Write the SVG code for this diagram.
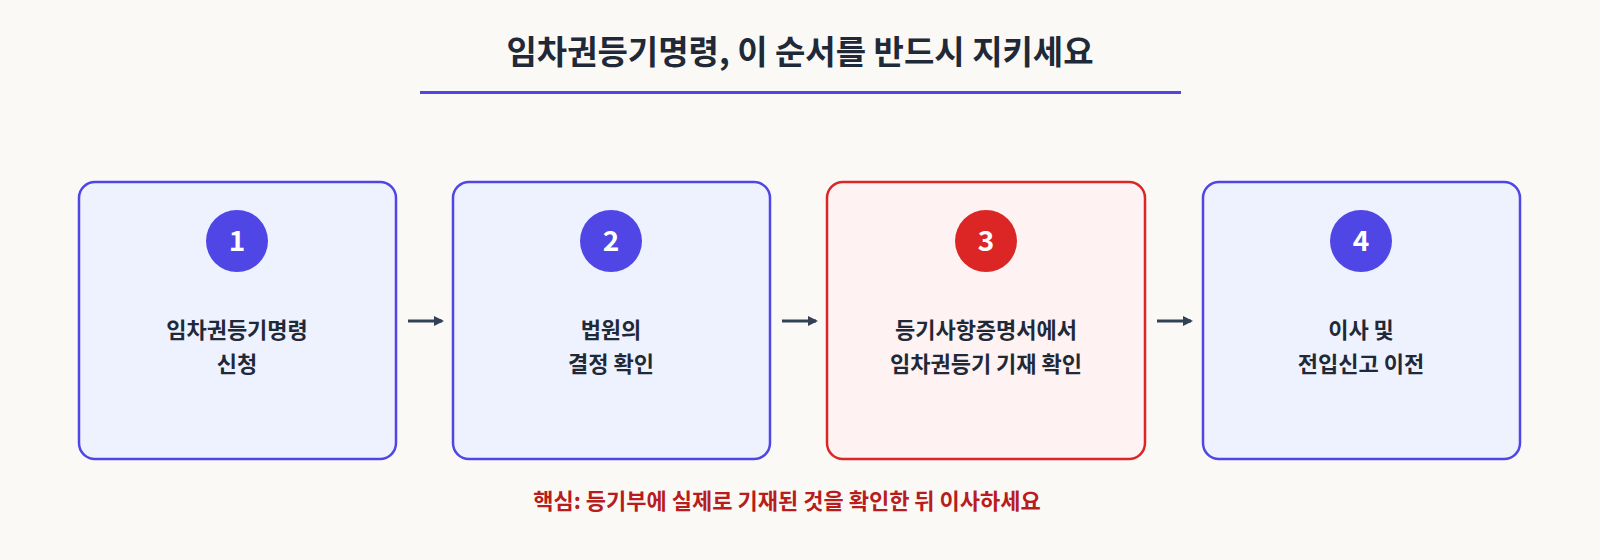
<svg xmlns="http://www.w3.org/2000/svg" width="1600" height="560" viewBox="0 0 1600 560">
<style>
text{font-family:"Noto Sans CJK KR","Noto Sans",sans-serif;text-anchor:middle;font-weight:bold}
.box{fill:#eef2ff;stroke:#4f46e5;stroke-width:2.5}
.red{fill:#fef2f2;stroke:#dc2626}
.lbl{font-size:22px;fill:#1f2937}
.num{font-size:28px;fill:#fff}
.ar{stroke:#334155;stroke-width:3;fill:none}
</style>
<defs><marker id="ah" markerWidth="10" markerHeight="10" refX="8" refY="5" orient="auto" markerUnits="userSpaceOnUse"><path d="M0,0L10,5L0,10z" fill="#334155"/></marker></defs>
<rect width="1600" height="560" fill="#faf9f6"/>
<text x="800" y="64" font-size="33" fill="#1f2937">임차권등기명령, 이 순서를 반드시 지키세요</text>
<rect x="420" y="91" width="761" height="3" fill="#4f46e5"/>
<g id="n1"><rect class="box" x="79" y="182" width="317" height="277" rx="16"/><circle cx="237" cy="241" r="31" fill="#4f46e5"/><text class="num" x="237" y="251">1</text><text class="lbl" x="237" y="338">임차권등기명령</text><text class="lbl" x="237" y="372">신청</text></g>
<g id="n2"><rect class="box" x="453" y="182" width="317" height="277" rx="16"/><circle cx="611" cy="241" r="31" fill="#4f46e5"/><text class="num" x="611" y="251">2</text><text class="lbl" x="611" y="338">법원의</text><text class="lbl" x="611" y="372">결정 확인</text></g>
<g id="n3"><rect class="box red" x="827" y="182" width="318" height="277" rx="16"/><circle cx="986" cy="241" r="31" fill="#dc2626"/><text class="num" x="986" y="251">3</text><text class="lbl" x="986" y="338">등기사항증명서에서</text><text class="lbl" x="986" y="372">임차권등기 기재 확인</text></g>
<g id="n4"><rect class="box" x="1203" y="182" width="317" height="277" rx="16"/><circle cx="1361" cy="241" r="31" fill="#4f46e5"/><text class="num" x="1361" y="251">4</text><text class="lbl" x="1361" y="338">이사 및</text><text class="lbl" x="1361" y="372">전입신고 이전</text></g>
<g id="connectors">
<line class="ar" x1="408" y1="321" x2="442" y2="321" marker-end="url(#ah)"/>
<line class="ar" x1="782" y1="321" x2="816" y2="321" marker-end="url(#ah)"/>
<line class="ar" x1="1157" y1="321" x2="1191" y2="321" marker-end="url(#ah)"/>
</g>
<text x="787" y="509" font-size="22" fill="#b91c1c">핵심: 등기부에 실제로 기재된 것을 확인한 뒤 이사하세요</text>
</svg>
